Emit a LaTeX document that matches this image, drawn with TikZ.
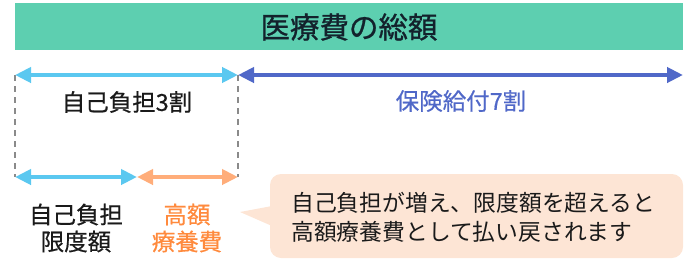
\documentclass[tikz,border=0pt]{standalone}
\usepackage{fontspec}
\setmainfont{Noto Sans CJK JP}
\newfontfamily\medfont{Noto Sans CJK JP}[FakeBold=0.9]
\newfontfamily\semifont{Noto Sans CJK JP}[FakeBold=0.5]
\usetikzlibrary{arrows.meta}
\definecolor{bandgreen}{HTML}{5DCFB0}
\definecolor{titleink}{HTML}{13222C}
\definecolor{lightblue}{HTML}{5BC8F0}
\definecolor{darkblue}{HTML}{5068C8}
\definecolor{orangearrow}{HTML}{FFAD7A}
\definecolor{orangeink}{HTML}{FF8A3D}
\definecolor{calloutfill}{HTML}{FDE5D5}
\definecolor{ink}{HTML}{1A1A1A}
\definecolor{dashgray}{HTML}{8A8A8A}
\begin{document}
\begin{tikzpicture}[x=1bp,y=-1bp,
  bar/.style={line width=4bp,{Triangle[length=16bp,width=15bp]}-{Triangle[length=16bp,width=15bp]}},
  guide/.style={draw=dashgray,line width=1.3bp,dash pattern=on 6bp off 5bp},
  label/.style={font=\fontsize{23.5bp}{27bp}\semifont,inner sep=0pt,align=center},
  titletext/.style={font=\fontsize{29.5bp}{34bp}\medfont,text=titleink,inner sep=0pt}]
\useasboundingbox (0,0) rectangle (700,269);
% band
\fill[bandgreen] (15,3) rectangle (683,50);
\node[titletext] (title) at (349,27) {医療費の総額};
% coordinates
\coordinate (tl) at (15,75);
\coordinate (tm) at (238,75);
\coordinate (tr) at (683,75);
\coordinate (bl) at (15,177);
\coordinate (bm) at (137,177);
\coordinate (br) at (238,177);
% dashed guides
\draw[guide] (tl) -- (bl);
\draw[guide] (tm) -- (br);
% arrows
\draw[bar,lightblue] (tl) -- (tm);
\draw[bar,darkblue] (tm) -- (tr);
\draw[bar,lightblue] (bl) -- (bm);
\draw[bar,orangearrow] (bm) -- (br);
% labels
\node[label,text=ink] (self3) at (127,102) {自己負担3割};
\node[label,text=darkblue] (ins7) at (461,101) {保険給付7割};
\node[label,text=ink] (limit) at (76,228) {自己負担\\限度額};
\node[label,text=orangeink] (kogaku) at (187,228) {高額\\療養費};
% callout
\fill[calloutfill,rounded corners=11bp] (270,174) rectangle (683,258);
\fill[calloutfill] (272,206) -- (240,212) -- (272,226) -- cycle;
\node[inner sep=0pt,text=ink,align=left,anchor=west,font=\fontsize{22.8bp}{29bp}\selectfont] (note) at (291,217) {自己負担が増え、限度額を超えると\\高額療養費として払い戻されます};
\end{tikzpicture}
\end{document}
